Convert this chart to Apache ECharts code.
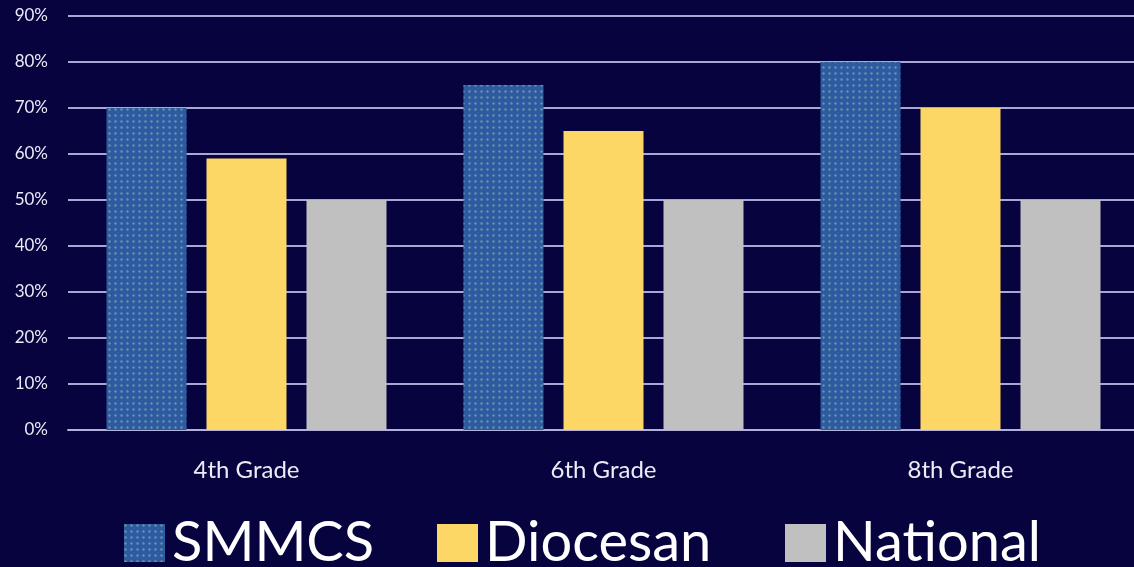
<!DOCTYPE html>
<html>
<head>
<meta charset="utf-8">
<script src="https://cdn.jsdelivr.net/npm/echarts@6/dist/echarts.min.js"></script>
<style>
html,body{margin:0;padding:0;background:#06033f;}
#chart{width:1134px;height:567px;}
</style>
</head>
<body>
<div id="chart"></div>
<script>
const categories = ['4th Grade', '6th Grade', '8th Grade'];
const smmcs = [70, 75, 80];
const diocesan = [59, 65, 70];
const national = [50, 50, 50];
const seriesNames = ['SMMCS', 'Diocesan', 'National'];

const chart = echarts.init(document.getElementById('chart'), null, {renderer: 'canvas'});
const font = 'Lato, "Open Sans", "Noto Sans", sans-serif';
const legendBase = {
  bottom: -4,
  icon: 'rect',
  padding: 0,
  itemWidth: 41, itemHeight: 38, itemGap: 0,
  textStyle: {color: '#ffffff', fontSize: 56, fontFamily: font, padding: [0, 0, 0, 2]}
};
chart.setOption({
  backgroundColor: '#06033f',
  animation: false,
  grid: {left: 68, width: 1071, top: 16, bottom: 137, containLabel: false, outerBoundsMode: 'none'},
  xAxis: {
    type: 'category',
    data: categories,
    axisLine: {show: true, lineStyle: {color: '#b4b0dc', width: 2}},
    axisTick: {show: false},
    axisLabel: {color: '#ecebf7', fontSize: 24, fontFamily: font, margin: 28}
  },
  yAxis: {
    type: 'value',
    min: 0, max: 90, interval: 10,
    axisLine: {show: false},
    axisTick: {show: false},
    axisLabel: {formatter: '{value}%', color: '#ecebf7', fontSize: 17, fontFamily: font, margin: 20},
    splitLine: {lineStyle: {color: '#aaa6d6', width: 2}}
  },
  legend: [
    Object.assign({}, legendBase, {left: 124, data: [seriesNames[0]]}),
    Object.assign({}, legendBase, {left: 437, data: [seriesNames[1]]}),
    Object.assign({}, legendBase, {left: 785, data: [seriesNames[2]]})
  ],
  series: [
    {name: seriesNames[0], type: 'bar', data: smmcs, barWidth: 80, barGap: '25%',
     itemStyle: {color: '#2e5aa4', decal: {symbol: 'circle', symbolSize: 0.8, color: 'rgba(150,205,120,0.55)', dashArrayX: [3, 3], dashArrayY: [3, 3], rotation: 0}}},
    {name: seriesNames[1], type: 'bar', data: diocesan, barWidth: 80, barGap: '25%',
     itemStyle: {color: '#fdd766'}},
    {name: seriesNames[2], type: 'bar', data: national, barWidth: 80, barGap: '25%',
     itemStyle: {color: '#c0c0c0'}}
  ]
});
</script>
</body>
</html>
